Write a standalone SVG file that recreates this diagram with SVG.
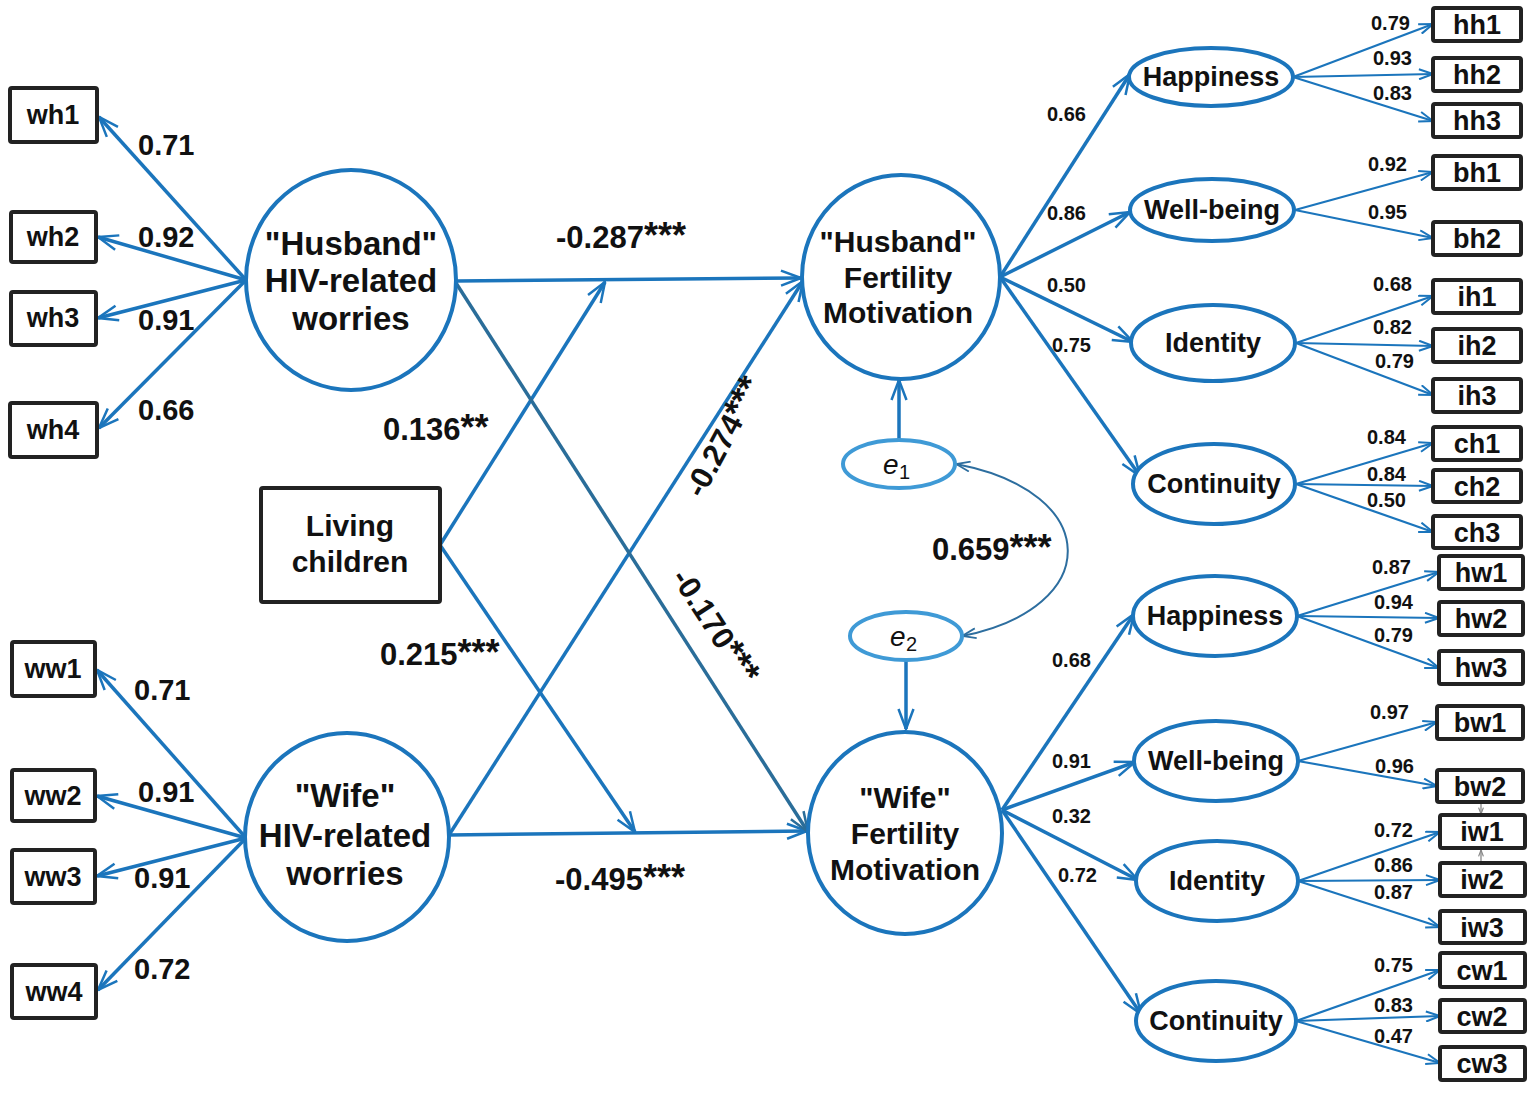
<svg xmlns="http://www.w3.org/2000/svg" width="1535" height="1094" viewBox="0 0 1535 1094">
<style>
text{font-family:"Liberation Sans",Arial,sans-serif;fill:#111;}
.big{font-size:33px;font-weight:bold;text-anchor:middle;}
.mid{font-size:30px;font-weight:bold;text-anchor:middle;}
.lab{font-size:29px;font-weight:bold;}
.pl{font-size:31px;font-weight:bold;}
.st{font-size:36px;}
.sm{font-size:20px;font-weight:bold;}
.sec{font-size:27px;font-weight:bold;text-anchor:middle;}
.box{fill:#fff;stroke:#222;stroke-width:4;}
.bt{font-size:27px;font-weight:bold;text-anchor:middle;}
.lat{fill:#fff;stroke:#1b75bc;stroke-width:4;}
.err{fill:#fff;stroke:#3f9ad6;stroke-width:4;}
.p{fill:none;stroke:#1b75bc;stroke-width:3.5;marker-end:url(#ah);}
.pd{fill:none;stroke:#2a6d99;stroke-width:3.5;marker-end:url(#ahd);}
.i{fill:none;stroke:#1b75bc;stroke-width:2.2;marker-end:url(#as);}
</style>
<defs>
<marker id="ah" viewBox="0 0 22 18" refX="21" refY="9" markerWidth="22" markerHeight="18" markerUnits="userSpaceOnUse" orient="auto"><path d="M1,1.5 L21,9 L1,16.5" fill="none" stroke="#1b75bc" stroke-width="2.5"/></marker>
<marker id="ahd" viewBox="0 0 22 18" refX="21" refY="9" markerWidth="22" markerHeight="18" markerUnits="userSpaceOnUse" orient="auto"><path d="M1,1.5 L21,9 L1,16.5" fill="none" stroke="#2a6d99" stroke-width="2.5"/></marker>
<marker id="as" viewBox="0 0 16 12" refX="15" refY="6" markerWidth="16" markerHeight="12" markerUnits="userSpaceOnUse" orient="auto"><path d="M1,1 L15,6 L1,11" fill="none" stroke="#1b75bc" stroke-width="2"/></marker>
<marker id="ac" viewBox="0 0 16 12" refX="15" refY="6" markerWidth="16" markerHeight="12" markerUnits="userSpaceOnUse" orient="auto-start-reverse"><path d="M1,1 L15,6 L1,11" fill="none" stroke="#2d6e9f" stroke-width="1.8"/></marker>
<marker id="ag" viewBox="0 0 10 8" refX="9" refY="4" markerWidth="8" markerHeight="7" markerUnits="userSpaceOnUse" orient="auto"><path d="M1,1 L9,4 L1,7" fill="none" stroke="#888" stroke-width="1.5"/></marker>
</defs>

<g id="connectors">
<line class="p" x1="246" y1="280" x2="99" y2="117"/>
<line class="p" x1="246" y1="280" x2="98" y2="237"/>
<line class="p" x1="246" y1="280" x2="98" y2="318"/>
<line class="p" x1="246" y1="280" x2="99" y2="428"/>
<line class="p" x1="246" y1="838" x2="97" y2="670"/>
<line class="p" x1="246" y1="838" x2="97" y2="796"/>
<line class="p" x1="246" y1="838" x2="97" y2="876"/>
<line class="p" x1="246" y1="838" x2="98" y2="990"/>
<line class="p" x1="456" y1="281" x2="801" y2="278"/>
<line class="p" x1="449" y1="835" x2="807" y2="831"/>
<line class="p" x1="440" y1="545" x2="605" y2="282"/>
<line class="p" x1="440" y1="545" x2="635" y2="832"/>
<line class="p" x1="449" y1="835" x2="803" y2="281"/>
<line class="pd" x1="456" y1="283" x2="808" y2="832"/>
<line class="p" x1="899" y1="440" x2="899" y2="380"/>
<line class="p" x1="906" y1="660" x2="906" y2="729"/>
<path d="M956,464 C1104,492 1104,608 962,636" fill="none" stroke="#2d6e9f" stroke-width="2" marker-start="url(#ac)" marker-end="url(#ac)"/>
<line class="p" x1="1000" y1="277" x2="1130" y2="74"/>
<line class="p" x1="1000" y1="277" x2="1130" y2="212"/>
<line class="p" x1="1000" y1="277" x2="1133" y2="342"/>
<line class="p" x1="1000" y1="277" x2="1140" y2="476"/>
<line class="p" x1="1002" y1="810" x2="1134" y2="614"/>
<line class="p" x1="1002" y1="810" x2="1135" y2="762"/>
<line class="p" x1="1002" y1="810" x2="1138" y2="880"/>
<line class="p" x1="1002" y1="810" x2="1141" y2="1014"/>
<line class="i" x1="1293" y1="77" x2="1433" y2="24"/>
<line class="i" x1="1293" y1="77" x2="1433" y2="74"/>
<line class="i" x1="1293" y1="77" x2="1433" y2="121"/>
<line class="i" x1="1295" y1="210" x2="1433" y2="172"/>
<line class="i" x1="1295" y1="210" x2="1433" y2="238"/>
<line class="i" x1="1296" y1="343" x2="1433" y2="296"/>
<line class="i" x1="1296" y1="343" x2="1433" y2="346"/>
<line class="i" x1="1296" y1="343" x2="1433" y2="395"/>
<line class="i" x1="1296" y1="484" x2="1433" y2="443"/>
<line class="i" x1="1296" y1="484" x2="1433" y2="486"/>
<line class="i" x1="1296" y1="484" x2="1433" y2="532"/>
<line class="i" x1="1297" y1="616" x2="1439" y2="572"/>
<line class="i" x1="1297" y1="616" x2="1439" y2="618"/>
<line class="i" x1="1297" y1="616" x2="1439" y2="668"/>
<line class="i" x1="1298" y1="761" x2="1437" y2="722"/>
<line class="i" x1="1298" y1="761" x2="1437" y2="786"/>
<line class="i" x1="1298" y1="881" x2="1440" y2="832"/>
<line class="i" x1="1298" y1="881" x2="1440" y2="880"/>
<line class="i" x1="1298" y1="881" x2="1440" y2="927"/>
<line class="i" x1="1296" y1="1021" x2="1440" y2="970"/>
<line class="i" x1="1296" y1="1021" x2="1440" y2="1016"/>
<line class="i" x1="1296" y1="1021" x2="1440" y2="1063"/>
<line x1="1481" y1="803" x2="1481" y2="814" stroke="#888" stroke-width="1.3" marker-end="url(#ag)"/>
<line x1="1481" y1="862" x2="1481" y2="850" stroke="#888" stroke-width="1.3" marker-end="url(#ag)"/>
</g>

<g id="labels">
<text class="lab" x="138" y="155">0.71</text>
<text class="lab" x="138" y="247">0.92</text>
<text class="lab" x="138" y="330">0.91</text>
<text class="lab" x="138" y="420">0.66</text>
<text class="lab" x="134" y="700">0.71</text>
<text class="lab" x="138" y="802">0.91</text>
<text class="lab" x="134" y="888">0.91</text>
<text class="lab" x="134" y="979">0.72</text>
<text class="pl" x="556" y="248">-0.287<tspan class="st">***</tspan></text>
<text class="pl" x="383" y="440">0.136<tspan class="st">**</tspan></text>
<text class="pl" x="380" y="665">0.215<tspan class="st">***</tspan></text>
<text class="pl" x="555" y="890">-0.495<tspan class="st">***</tspan></text>
<text class="pl" x="932" y="560">0.659<tspan class="st">***</tspan></text>
<text class="pl" text-anchor="middle" transform="translate(733,442) rotate(-62)">-0.274<tspan class="st">***</tspan></text>
<text class="pl" text-anchor="middle" transform="translate(706,632) rotate(57)">-0.170<tspan class="st">***</tspan></text>
<text class="sm" x="1047" y="121">0.66</text>
<text class="sm" x="1047" y="220">0.86</text>
<text class="sm" x="1047" y="292">0.50</text>
<text class="sm" x="1052" y="352">0.75</text>
<text class="sm" x="1052" y="667">0.68</text>
<text class="sm" x="1052" y="768">0.91</text>
<text class="sm" x="1052" y="823">0.32</text>
<text class="sm" x="1058" y="882">0.72</text>
<text class="sm" x="1371" y="30">0.79</text>
<text class="sm" x="1373" y="65">0.93</text>
<text class="sm" x="1373" y="100">0.83</text>
<text class="sm" x="1368" y="171">0.92</text>
<text class="sm" x="1368" y="219">0.95</text>
<text class="sm" x="1373" y="291">0.68</text>
<text class="sm" x="1373" y="334">0.82</text>
<text class="sm" x="1375" y="368">0.79</text>
<text class="sm" x="1367" y="444">0.84</text>
<text class="sm" x="1367" y="481">0.84</text>
<text class="sm" x="1367" y="507">0.50</text>
<text class="sm" x="1372" y="574">0.87</text>
<text class="sm" x="1374" y="609">0.94</text>
<text class="sm" x="1374" y="642">0.79</text>
<text class="sm" x="1370" y="719">0.97</text>
<text class="sm" x="1375" y="773">0.96</text>
<text class="sm" x="1374" y="837">0.72</text>
<text class="sm" x="1374" y="872">0.86</text>
<text class="sm" x="1374" y="899">0.87</text>
<text class="sm" x="1374" y="972">0.75</text>
<text class="sm" x="1374" y="1012">0.83</text>
<text class="sm" x="1374" y="1043">0.47</text>
</g>

<g id="husband-worries"><ellipse class="lat" cx="351" cy="280" rx="105" ry="110"/>
<text class="big" x="351" y="255">"Husband"</text><text class="big" x="351" y="292">HIV-related</text><text class="big" x="351" y="330">worries</text></g>
<g id="wife-worries"><ellipse class="lat" cx="347" cy="837" rx="102" ry="104"/>
<text class="big" x="345" y="807">"Wife"</text><text class="big" x="345" y="847">HIV-related</text><text class="big" x="345" y="885">worries</text></g>
<g id="living-children"><rect class="box" x="261" y="488" width="179" height="114" rx="2"/>
<text class="mid" x="350" y="536">Living</text><text class="mid" x="350" y="572">children</text></g>
<g id="husband-fertility"><ellipse class="lat" cx="901" cy="277" rx="99" ry="102"/>
<text class="mid" x="898" y="252">"Husband"</text><text class="mid" x="898" y="288">Fertility</text><text class="mid" x="898" y="323">Motivation</text></g>
<g id="wife-fertility"><ellipse class="lat" cx="905" cy="833" rx="97" ry="101"/>
<text class="mid" x="905" y="808">"Wife"</text><text class="mid" x="905" y="844">Fertility</text><text class="mid" x="905" y="880">Motivation</text></g>
<g id="e1"><ellipse class="err" cx="899" cy="464" rx="56" ry="24"/>
<text x="883" y="474" font-size="28" font-style="italic">e</text><text x="899" y="479" font-size="20">1</text></g>
<g id="e2"><ellipse class="err" cx="906" cy="636" rx="56" ry="24"/>
<text x="890" y="646" font-size="28" font-style="italic">e</text><text x="906" y="651" font-size="20">2</text></g>

<g id="h-happiness"><ellipse class="lat" cx="1211" cy="77" rx="82" ry="29"/><text class="sec" x="1211" y="86">Happiness</text></g>
<g id="h-wellbeing"><ellipse class="lat" cx="1212" cy="210" rx="82" ry="31"/><text class="sec" x="1212" y="219">Well-being</text></g>
<g id="h-identity"><ellipse class="lat" cx="1213" cy="343" rx="82" ry="38"/><text class="sec" x="1213" y="352">Identity</text></g>
<g id="h-continuity"><ellipse class="lat" cx="1214" cy="484" rx="81" ry="40"/><text class="sec" x="1214" y="493">Continuity</text></g>
<g id="w-happiness"><ellipse class="lat" cx="1215" cy="616" rx="82" ry="40"/><text class="sec" x="1215" y="625">Happiness</text></g>
<g id="w-wellbeing"><ellipse class="lat" cx="1216" cy="761" rx="82" ry="40"/><text class="sec" x="1216" y="770">Well-being</text></g>
<g id="w-identity"><ellipse class="lat" cx="1217" cy="881" rx="81" ry="40"/><text class="sec" x="1217" y="890">Identity</text></g>
<g id="w-continuity"><ellipse class="lat" cx="1216" cy="1021" rx="80" ry="40"/><text class="sec" x="1216" y="1030">Continuity</text></g>

<g id="wh1"><rect class="box" x="10" y="88" width="87" height="54" rx="2"/><text class="bt" x="53" y="124">wh1</text></g>
<g id="wh2"><rect class="box" x="11" y="212" width="85" height="50" rx="2"/><text class="bt" x="53" y="246">wh2</text></g>
<g id="wh3"><rect class="box" x="11" y="292" width="85" height="53" rx="2"/><text class="bt" x="53" y="327">wh3</text></g>
<g id="wh4"><rect class="box" x="10" y="403" width="87" height="54" rx="2"/><text class="bt" x="53" y="439">wh4</text></g>
<g id="ww1"><rect class="box" x="12" y="642" width="83" height="54" rx="2"/><text class="bt" x="53" y="678">ww1</text></g>
<g id="ww2"><rect class="box" x="12" y="770" width="83" height="51" rx="2"/><text class="bt" x="53" y="805">ww2</text></g>
<g id="ww3"><rect class="box" x="12" y="850" width="83" height="53" rx="2"/><text class="bt" x="53" y="886">ww3</text></g>
<g id="ww4"><rect class="box" x="12" y="965" width="84" height="53" rx="2"/><text class="bt" x="54" y="1001">ww4</text></g>

<g id="hh1"><rect class="box" x="1433" y="8" width="88" height="33" rx="2"/><text class="bt" x="1477" y="34">hh1</text></g>
<g id="hh2"><rect class="box" x="1433" y="58" width="88" height="33" rx="2"/><text class="bt" x="1477" y="84">hh2</text></g>
<g id="hh3"><rect class="box" x="1433" y="104" width="88" height="33" rx="2"/><text class="bt" x="1477" y="130">hh3</text></g>
<g id="bh1"><rect class="box" x="1433" y="156" width="88" height="33" rx="2"/><text class="bt" x="1477" y="182">bh1</text></g>
<g id="bh2"><rect class="box" x="1433" y="222" width="88" height="33" rx="2"/><text class="bt" x="1477" y="248">bh2</text></g>
<g id="ih1"><rect class="box" x="1433" y="280" width="88" height="33" rx="2"/><text class="bt" x="1477" y="306">ih1</text></g>
<g id="ih2"><rect class="box" x="1433" y="329" width="88" height="33" rx="2"/><text class="bt" x="1477" y="355">ih2</text></g>
<g id="ih3"><rect class="box" x="1433" y="379" width="88" height="33" rx="2"/><text class="bt" x="1477" y="405">ih3</text></g>
<g id="ch1"><rect class="box" x="1433" y="427" width="88" height="33" rx="2"/><text class="bt" x="1477" y="453">ch1</text></g>
<g id="ch2"><rect class="box" x="1433" y="470" width="88" height="32" rx="2"/><text class="bt" x="1477" y="496">ch2</text></g>
<g id="ch3"><rect class="box" x="1433" y="516" width="88" height="32" rx="2"/><text class="bt" x="1477" y="542">ch3</text></g>
<g id="hw1"><rect class="box" x="1439" y="556" width="84" height="33" rx="2"/><text class="bt" x="1481" y="582">hw1</text></g>
<g id="hw2"><rect class="box" x="1439" y="602" width="84" height="33" rx="2"/><text class="bt" x="1481" y="628">hw2</text></g>
<g id="hw3"><rect class="box" x="1439" y="651" width="84" height="33" rx="2"/><text class="bt" x="1481" y="677">hw3</text></g>
<g id="bw1"><rect class="box" x="1437" y="706" width="86" height="33" rx="2"/><text class="bt" x="1480" y="732">bw1</text></g>
<g id="bw2"><rect class="box" x="1437" y="770" width="86" height="32" rx="2"/><text class="bt" x="1480" y="796">bw2</text></g>
<g id="iw1"><rect class="box" x="1440" y="815" width="85" height="33" rx="2"/><text class="bt" x="1482" y="841">iw1</text></g>
<g id="iw2"><rect class="box" x="1440" y="863" width="85" height="33" rx="2"/><text class="bt" x="1482" y="889">iw2</text></g>
<g id="iw3"><rect class="box" x="1440" y="911" width="85" height="32" rx="2"/><text class="bt" x="1482" y="937">iw3</text></g>
<g id="cw1"><rect class="box" x="1440" y="953" width="85" height="34" rx="2"/><text class="bt" x="1482" y="980">cw1</text></g>
<g id="cw2"><rect class="box" x="1440" y="1000" width="85" height="32" rx="2"/><text class="bt" x="1482" y="1026">cw2</text></g>
<g id="cw3"><rect class="box" x="1440" y="1047" width="85" height="33" rx="2"/><text class="bt" x="1482" y="1073">cw3</text></g>
</svg>
